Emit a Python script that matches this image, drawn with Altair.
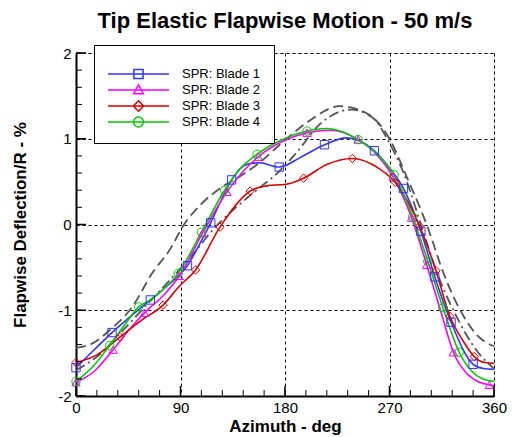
import altair as alt
import pandas as pd

FONT = "Liberation Sans"

# ---------------- data ----------------
blade_names = ["SPR: Blade 1", "SPR: Blade 2", "SPR: Blade 3", "SPR: Blade 4"]
blade_colors = ["#3434ff", "#ff00ff", "#d40000", "#00c800"]
blade_shapes = ["square", "triangle-up", "diamond", "circle"]

# smooth curve knots (azimuth deg, deflection %)
b1_az = [0, 15, 31, 48, 64, 80, 96, 106, 116, 125, 134, 147, 158, 175, 193, 214, 233, 257, 270, 282, 297, 309, 323, 342, 351, 360]
b1_val = [-1.67, -1.47, -1.26, -1.06, -0.88, -0.70, -0.48, -0.24, 0.02, 0.28, 0.52, 0.70, 0.72, 0.67, 0.78, 0.93, 1.01, 0.86, 0.66, 0.42, -0.08, -0.61, -1.14, -1.63, -1.68, -1.69]

b2_az = [0, 15, 32, 45, 59, 75, 89, 109, 130, 144, 157, 178, 199, 218, 243, 260, 273, 289, 302, 315, 325, 336, 346, 356, 360]
b2_val = [-1.84, -1.72, -1.46, -1.24, -1.03, -0.83, -0.60, -0.10, 0.38, 0.62, 0.79, 0.97, 1.07, 1.10, 0.99, 0.80, 0.56, 0.08, -0.47, -1.05, -1.49, -1.73, -1.83, -1.87, -1.88]

b3_az = [0, 18, 38, 56, 75, 89, 103, 124, 150, 164, 181, 196, 216, 238, 259, 275, 296, 310, 322, 333, 343, 352, 360]
b3_val = [-1.61, -1.52, -1.31, -1.12, -0.94, -0.72, -0.53, -0.03, 0.39, 0.45, 0.47, 0.54, 0.70, 0.77, 0.67, 0.49, -0.02, -0.54, -1.07, -1.35, -1.54, -1.61, -1.62]

b4_az = [0, 15, 29, 42, 54, 64, 75, 88, 108, 128, 142, 156, 176, 199, 216, 243, 260, 274, 290, 303, 316, 330, 340, 350, 360]
b4_val = [-1.83, -1.65, -1.41, -1.17, -0.96, -0.88, -0.76, -0.57, -0.09, 0.40, 0.66, 0.82, 0.98, 1.09, 1.12, 0.99, 0.81, 0.58, 0.09, -0.43, -0.97, -1.49, -1.70, -1.80, -1.83]

# marker positions
b1_mk_az = [0, 31, 64, 96, 116, 134, 175, 214, 257, 282, 297, 309, 323, 342]
b1_mk_val = [-1.67, -1.26, -0.88, -0.48, 0.02, 0.52, 0.67, 0.93, 0.86, 0.42, -0.08, -0.61, -1.14, -1.63]
b2_mk_az = [0, 32, 59, 89, 109, 130, 157, 199, 243, 273, 289, 302, 325, 356]
b2_mk_val = [-1.84, -1.46, -1.03, -0.60, -0.10, 0.38, 0.79, 1.07, 0.99, 0.56, 0.08, -0.47, -1.49, -1.87]
b3_mk_az = [0, 38, 75, 103, 124, 150, 196, 238, 275, 296, 310, 322, 343]
b3_mk_val = [-1.61, -1.31, -0.94, -0.53, -0.03, 0.39, 0.54, 0.77, 0.49, -0.02, -0.54, -1.07, -1.54]
b4_mk_az = [0, 29, 54, 88, 108, 128, 156, 199, 243, 274, 290, 303, 316, 330]
b4_mk_val = [-1.83, -1.41, -0.96, -0.57, -0.09, 0.40, 0.82, 1.09, 0.99, 0.58, 0.09, -0.43, -0.97, -1.49]

# gray reference curves
g1_az = [0, 15, 30, 48, 66, 81, 93, 108, 126, 141, 156, 178, 200, 227, 250, 270, 285, 302, 318, 333, 346, 360]
g1_val = [-1.44, -1.38, -1.22, -0.97, -0.56, -0.29, 0.0, 0.24, 0.44, 0.56, 0.70, 0.96, 1.20, 1.38, 1.30, 1.00, 0.55, 0.0, -0.62, -1.05, -1.30, -1.42]
g2_az = [0, 20, 40, 60, 80, 100, 118, 150, 175, 190, 210, 237, 255, 270, 285, 297, 312, 328, 345, 360]
g2_val = [-1.70, -1.52, -1.24, -0.95, -0.66, -0.36, -0.06, 0.34, 0.62, 0.84, 1.17, 1.34, 1.25, 0.95, 0.50, 0.0, -0.60, -1.08, -1.47, -1.68]

x_major = [0, 90, 180, 270, 360]
x_minor = [0, 18, 36, 54, 72, 90, 108, 126, 144, 162, 180, 198, 216, 234, 252, 270, 288, 306, 324, 342, 360]
y_major = [-2, -1, 0, 1, 2]
y_minor = [-2, -1.8, -1.6, -1.4, -1.2, -1, -0.8, -0.6, -0.4, -0.2, 0, 0.2, 0.4, 0.6, 0.8, 1, 1.2, 1.4, 1.6, 1.8, 2]

# legend symbols: a line segment with the blade's marker in the middle
legend_paths = [
    "M-1,0L1,0M-0.15,-0.15L0.15,-0.15L0.15,0.15L-0.15,0.15Z",
    "M-1,0L1,0M0,-0.17L0.16,0.12L-0.16,0.12Z",
    "M-1,0L1,0M0,-0.17L0.17,0L0,0.17L-0.17,0Z",
    "M-1,0L1,0M0.16,0A0.16,0.16,0,1,1,-0.16,0A0.16,0.16,0,1,1,0.16,0Z",
]

# ---------------- tables ----------------
def table(name, az, val):
    return pd.DataFrame({"blade": name, "az": az, "val": val, "order": range(len(az))})

line_tables = [table(n, a, v) for n, a, v in zip(
    blade_names, [b1_az, b2_az, b3_az, b4_az], [b1_val, b2_val, b3_val, b4_val])]
mk_tables = [table(n, a, v) for n, a, v in zip(
    blade_names, [b1_mk_az, b2_mk_az, b3_mk_az, b4_mk_az], [b1_mk_val, b2_mk_val, b3_mk_val, b4_mk_val])]
g1_df = table("g1", g1_az, g1_val)
g2_df = table("g2", g2_az, g2_val)
legend_df = pd.DataFrame({"blade": blade_names, "az": [None] * 4, "val": [None] * 4})

W, H = 418, 343
xs = alt.Scale(domain=[0, 360], nice=False, zero=False)
ys = alt.Scale(domain=[-2, 2], nice=False, zero=False)

x_enc = alt.X("az:Q", scale=xs, axis=alt.Axis(
    values=x_major, title="Azimuth - deg", titleFontSize=17, titleFontWeight="bold",
    titlePadding=3, labelFontSize=15, labelPadding=4, ticks=False, labelFlush=False,
    labelExpr="datum.value + ''",
    grid=True, gridDash=[3, 3], gridColor="black", gridWidth=1,
    domainColor="black", domainWidth=2, labelColor="black", titleColor="black"))
y_enc = alt.Y("val:Q", scale=ys, axis=alt.Axis(
    values=y_major, title="Flapwise Deflection/R - %", titleFontSize=17, titleFontWeight="bold",
    titlePadding=28, labelFontSize=15, labelPadding=5, ticks=False, labelFlush=False,
    labelExpr="datum.value + ''",
    grid=True, gridDash=[3, 3], gridColor="black", gridWidth=1,
    domainColor="black", domainWidth=2, labelColor="black", titleColor="black"))

legend = alt.Legend(
    title=" ", titleFontSize=6, titlePadding=2, orient="none", legendX=18, legendY=-8,
    padding=13, strokeColor="black", fillColor="white", cornerRadius=0,
    labelFont=FONT, labelFontSize=13, labelColor="black", labelOffset=12,
    symbolSize=3721, symbolStrokeWidth=1.5, symbolOpacity=1, rowPadding=0, clipHeight=16)

gray1 = alt.Chart(g1_df).mark_line(interpolate="monotone", color="#555555", strokeWidth=1.8,
                                   strokeDash=[10, 5]).encode(x=x_enc, y=y_enc, order="order:Q")
gray2 = alt.Chart(g2_df).mark_line(interpolate="monotone", color="#555555", strokeWidth=1.8,
                                   strokeDash=[10, 4, 2, 4]).encode(x=x_enc, y=y_enc, order="order:Q")

line_layers = [
    alt.Chart(df).mark_line(interpolate="monotone", strokeWidth=1.6, color=col).encode(
        x=x_enc, y=y_enc, order="order:Q")
    for df, col in zip(line_tables, blade_colors)
]
marker_layers = [
    alt.Chart(df).mark_point(filled=False, size=70, strokeWidth=1, shape=shp, color=col, opacity=1).encode(
        x=x_enc, y=y_enc)
    for df, shp, col in zip(mk_tables, blade_shapes, blade_colors)
]

legend_layer = alt.Chart(legend_df).mark_point(filled=False, strokeWidth=1.5, opacity=1).encode(
    x=x_enc, y=y_enc,
    color=alt.Color("blade:N", scale=alt.Scale(domain=blade_names, range=blade_colors), legend=legend),
    shape=alt.Shape("blade:N", scale=alt.Scale(domain=blade_names, range=legend_paths), legend=legend))

xt_minor = alt.Chart(pd.DataFrame({"t": x_minor})).mark_rule(color="black", strokeWidth=1).encode(
    x=alt.X("t:Q", scale=xs), y=alt.value(H), y2=alt.value(H - 6))
xt_major = alt.Chart(pd.DataFrame({"t": x_major})).mark_rule(color="black", strokeWidth=1.5).encode(
    x=alt.X("t:Q", scale=xs), y=alt.value(H), y2=alt.value(H - 10))
yt_minor = alt.Chart(pd.DataFrame({"t": y_minor})).mark_rule(color="black", strokeWidth=1).encode(
    y=alt.Y("t:Q", scale=ys), x=alt.value(0), x2=alt.value(6))
yt_major = alt.Chart(pd.DataFrame({"t": y_major})).mark_rule(color="black", strokeWidth=1.5).encode(
    y=alt.Y("t:Q", scale=ys), x=alt.value(0), x2=alt.value(10))

chart = alt.layer(gray1, gray2, *line_layers, *marker_layers, legend_layer,
                  xt_minor, xt_major, yt_minor, yt_major).properties(
    width=W, height=H,
    title=alt.TitleParams("Tip Elastic Flapwise Motion - 50 m/s", fontSize=22, fontWeight="bold",
                          font=FONT, anchor="middle", frame="group", offset=12, color="black"),
    autosize=alt.AutoSizeParams(type="none"),
    padding={"left": 76, "top": 53, "right": 19, "bottom": 41},
).configure_view(stroke=None).configure(font=FONT).configure_axis(labelFont=FONT, titleFont=FONT)

chart.save("out.html", embed_options={"renderer": "svg", "actions": False})
